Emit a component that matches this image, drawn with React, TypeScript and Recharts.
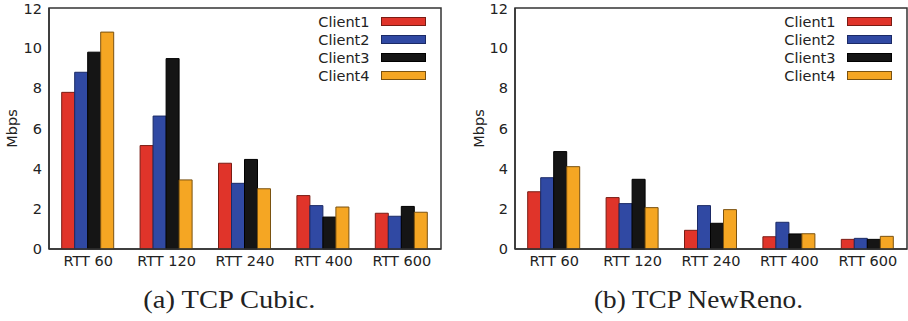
import React from 'react';
import { BarChart, Bar, XAxis, YAxis, Legend, ReferenceArea } from 'recharts';

const categories = ['RTT 60', 'RTT 120', 'RTT 240', 'RTT 400', 'RTT 600'];

const cubicClient1 = [7.8, 5.15, 4.27, 2.66, 1.78];
const cubicClient2 = [8.8, 6.62, 3.27, 2.16, 1.63];
const cubicClient3 = [9.8, 9.48, 4.46, 1.59, 2.12];
const cubicClient4 = [10.8, 3.44, 3.0, 2.09, 1.83];

const renoClient1 = [2.85, 2.56, 0.93, 0.61, 0.48];
const renoClient2 = [3.55, 2.26, 2.16, 1.33, 0.53];
const renoClient3 = [4.85, 3.47, 1.28, 0.75, 0.48];
const renoClient4 = [4.1, 2.06, 1.96, 0.76, 0.63];

const yTicks = [0, 2, 4, 6, 8, 10, 12];
const seriesNames = ['Client1', 'Client2', 'Client3', 'Client4'];
const seriesKeys = ['c1', 'c2', 'c3', 'c4'];
const seriesFill = ['#e0342a', '#3049a3', '#151515', '#f5a623'];
const seriesStroke = ['#7a1c14', '#1b2a66', '#000000', '#7a5210'];

const captions = ['(a) TCP Cubic.', '(b) TCP NewReno.'];

const FONT = '"DejaVu Sans", sans-serif';
const TEXT = '#222';
const LINE = '#333333';

function buildRows(series: number[][]) {
  return categories.map((cat, i) => {
    const row: any = { cat };
    seriesKeys.forEach((k, j) => {
      row[k] = series[j][i];
    });
    return row;
  });
}

const cubicData = buildRows([cubicClient1, cubicClient2, cubicClient3, cubicClient4]);
const renoData = buildRows([renoClient1, renoClient2, renoClient3, renoClient4]);

const LegendContent = (props: any) => {
  const payload = (props.payload || []).filter((e: any) => seriesNames.includes(e.value));
  return (
    <div style={{ fontFamily: FONT, fontSize: 14.5, color: TEXT }}>
      {payload.map((e: any) => {
        const i = seriesNames.indexOf(e.value);
        return (
          <div
            key={e.value}
            style={{ display: 'flex', justifyContent: 'flex-end', alignItems: 'center', height: 18 }}
          >
            <span style={{ lineHeight: '18px', whiteSpace: 'nowrap' }}>{e.value}</span>
            <span
              style={{
                display: 'inline-block',
                width: 45,
                height: 9,
                marginLeft: 11,
                background: seriesFill[i],
                border: `1px solid ${seriesStroke[i]}`,
                boxSizing: 'border-box',
              }}
            />
          </div>
        );
      })}
    </div>
  );
};

type PanelProps = {
  data: any[];
  yAxisWidth: number;
  marginRight: number;
  labelOffset: number;
};

const W = 454;
const H = 280;

function Panel({ data, yAxisWidth, marginRight, labelOffset }: PanelProps) {
  const plotRight = W - marginRight;
  const legendWidth = 146;
  return (
    <BarChart
      width={W}
      height={H}
      data={data}
      margin={{ top: 8, right: marginRight, bottom: 0, left: 0 }}
      barCategoryGap="16.2%"
      barGap={0}
    >
      <XAxis
        dataKey="cat"
        height={31}
        tickLine={false}
        tickSize={0}
        tickMargin={7}
        axisLine={{ stroke: LINE, strokeWidth: 1.5 }}
        tick={{ fill: TEXT, fontSize: 14.5, fontFamily: FONT }}
        interval={0}
      />
      <YAxis
        width={yAxisWidth}
        domain={[0, 12]}
        ticks={yTicks}
        tickSize={0}
        tickMargin={7}
        tickLine={false}
        axisLine={{ stroke: LINE, strokeWidth: 1.5 }}
        tick={{ fill: TEXT, fontSize: 14.5, fontFamily: FONT }}
        label={{
          value: 'Mbps',
          angle: -90,
          position: 'insideLeft',
          offset: labelOffset,
          fill: TEXT,
          fontSize: 14.5,
          fontFamily: FONT,
          style: { textAnchor: 'middle' },
        }}
      />
      <Legend
        layout="horizontal"
        verticalAlign="middle"
        align="center"
        content={<LegendContent />}
        wrapperStyle={{ top: 12.7, left: plotRight - 15.5 - legendWidth, width: legendWidth, right: 'auto', bottom: 'auto' }}
      />
      {seriesKeys.map((k, i) => (
        <Bar
          key={k}
          dataKey={k}
          name={seriesNames[i]}
          fill={seriesFill[i]}
          stroke={seriesStroke[i]}
          strokeWidth={1}
          isAnimationActive={false}
        />
      ))}
      <ReferenceArea
        y1={0}
        y2={12}
        fill="rgba(255,255,255,0)"
        fillOpacity={0}
        stroke={LINE}
        strokeWidth={1.5}
        strokeOpacity={1}
      />
    </BarChart>
  );
}

export default function App() {
  return (
    <div style={{ position: 'relative', width: 908, height: 321, background: '#fff' }}>
      <style>{`body{margin:0;background:#fff}`}</style>
      <div style={{ position: 'absolute', left: 0, top: 0 }}>
        <Panel data={cubicData} yAxisWidth={49} marginRight={13} labelOffset={12} />
      </div>
      <div style={{ position: 'absolute', left: 454, top: 0 }}>
        <Panel data={renoData} yAxisWidth={61} marginRight={1} labelOffset={25} />
      </div>
      <svg
        width={908}
        height={321}
        style={{ position: 'absolute', left: 0, top: 0, pointerEvents: 'none' }}
      >
        <text
          x={143.3}
          y={308}
          fontFamily='"Liberation Serif", serif'
          fontSize={25}
          fill={TEXT}
          textLength={172}
          lengthAdjust="spacingAndGlyphs"
        >
          {captions[0]}
        </text>
        <text
          x={594}
          y={308}
          fontFamily='"Liberation Serif", serif'
          fontSize={25}
          fill={TEXT}
          textLength={209}
          lengthAdjust="spacingAndGlyphs"
        >
          {captions[1]}
        </text>
      </svg>
    </div>
  );
}
